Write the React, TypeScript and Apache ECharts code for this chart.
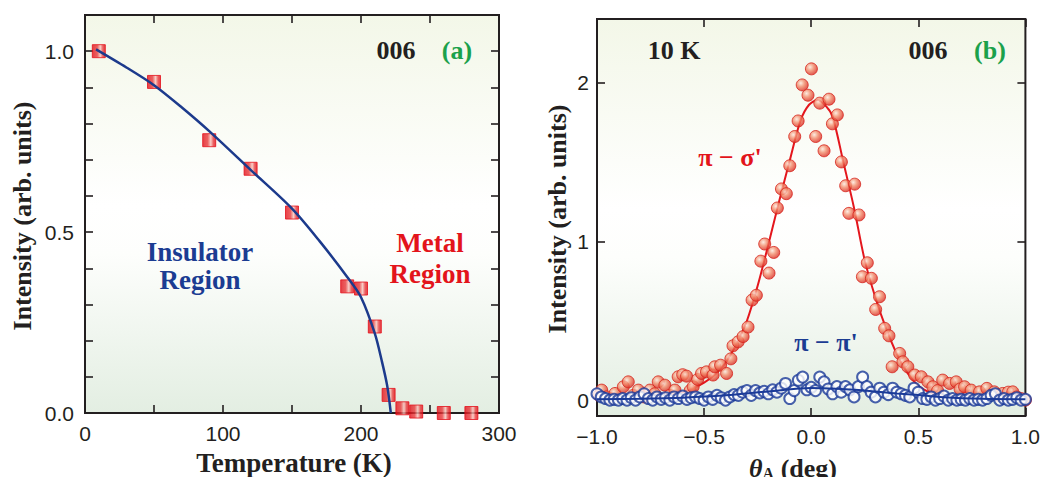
import React, { useEffect, useRef } from "react";
import * as echarts from "echarts";

// ---------- Panel (a): 006 intensity vs temperature ----------
const tempK = [10, 50, 90, 120, 150, 190, 200, 210, 220, 230, 240, 260, 280];
const intensityA = [1.0, 0.915, 0.754, 0.675, 0.554, 0.35, 0.344, 0.239, 0.05, 0.013, 0.004, 0.0, 0.0];
const fitT = [8, 30, 50, 70, 90, 120, 150, 170, 190, 200, 210, 215, 219, 221.6];
const fitI = [1.005, 0.955, 0.906, 0.845, 0.779, 0.672, 0.565, 0.475, 0.376, 0.32, 0.22, 0.145, 0.075, 0.0];

const aTicksX = [0, 50, 100, 150, 200, 250, 300];
const aLabelsX = [0, 100, 200, 300];
const aTicksY = [0, 0.1, 0.2, 0.3, 0.4, 0.5, 0.6, 0.7, 0.8, 0.9, 1.0];
const aLabelsY = [0, 0.5, 1.0];

// ---------- Panel (b): theta_A scan at 10 K ----------
const piSigmaPts: [number, number][] = [
  [-0.99, 0.03], [-0.978, 0.063], [-0.955, 0.02], [-0.935, 0.01], [-0.916, 0.042], [-0.877, 0.084],
  [-0.854, 0.115], [-0.83, 0.03], [-0.807, 0.063], [-0.78, 0.02], [-0.753, 0.063], [-0.73, 0.04],
  [-0.714, 0.115], [-0.683, 0.094], [-0.66, 0.03], [-0.636, 0.063], [-0.621, 0.147], [-0.6, 0.16],
  [-0.582, 0.151], [-0.565, 0.06], [-0.551, 0.084], [-0.53, 0.13], [-0.512, 0.168], [-0.489, 0.178],
  [-0.458, 0.158], [-0.45, 0.21], [-0.423, 0.22], [-0.395, 0.168], [-0.375, 0.26], [-0.365, 0.342],
  [-0.341, 0.367], [-0.318, 0.4], [-0.295, 0.46], [-0.276, 0.63], [-0.256, 0.66], [-0.235, 0.875],
  [-0.217, 0.983], [-0.197, 0.8], [-0.175, 0.93], [-0.158, 1.21], [-0.139, 1.33], [-0.116, 1.3],
  [-0.1, 1.476], [-0.077, 1.66], [-0.061, 1.758], [-0.042, 1.985], [-0.015, 1.92], [0.001, 2.086],
  [0.021, 1.66], [0.04, 1.87], [0.06, 1.57], [0.083, 1.895], [0.099, 1.74], [0.122, 1.796],
  [0.141, 1.5], [0.161, 1.35], [0.176, 1.176], [0.203, 1.36], [0.223, 1.166], [0.239, 0.777],
  [0.262, 0.865], [0.281, 0.767], [0.301, 0.571], [0.319, 0.651], [0.343, 0.452], [0.363, 0.405],
  [0.378, 0.21], [0.413, 0.294], [0.428, 0.241], [0.451, 0.21], [0.483, 0.158], [0.514, 0.147],
  [0.545, 0.115], [0.568, 0.084], [0.59, 0.06], [0.614, 0.126], [0.646, 0.105], [0.677, 0.115],
  [0.695, 0.07], [0.716, 0.084], [0.747, 0.063], [0.786, 0.052], [0.82, 0.074], [0.855, 0.052],
  [0.875, 0.03], [0.894, 0.042], [0.92, 0.05], [0.941, 0.052], [0.96, 0.02], [0.98, 0.01], [1.0, 0.0],
];
const piSigmaFit: [number, number][] = [
  [-1.0, 0.01], [-0.9, 0.012], [-0.8, 0.018], [-0.7, 0.03], [-0.6, 0.05], [-0.55, 0.075], [-0.5, 0.11],
  [-0.45, 0.16], [-0.4, 0.235], [-0.35, 0.35], [-0.3, 0.5], [-0.25, 0.72], [-0.2, 0.98], [-0.15, 1.25],
  [-0.1, 1.51], [-0.05, 1.76], [-0.01, 1.86], [0.03, 1.89], [0.07, 1.85], [0.1, 1.785], [0.15, 1.5],
  [0.2, 1.21], [0.25, 0.88], [0.3, 0.645], [0.35, 0.45], [0.4, 0.29], [0.45, 0.17], [0.5, 0.09],
  [0.55, 0.05], [0.6, 0.03], [0.7, 0.018], [0.8, 0.012], [0.9, 0.01], [1.0, 0.01],
];
const piPiPts: [number, number][] = [
  [-1.0, 0.04], [-0.98, 0.02], [-0.96, 0.01], [-0.94, 0.0], [-0.92, 0.005], [-0.9, 0.0], [-0.88, 0.01],
  [-0.86, 0.0], [-0.84, 0.015], [-0.82, 0.0], [-0.8, 0.02], [-0.78, 0.04], [-0.76, 0.01], [-0.74, 0.0],
  [-0.72, 0.02], [-0.7, 0.005], [-0.68, 0.015], [-0.66, 0.0], [-0.64, 0.02], [-0.62, 0.01], [-0.6, 0.025],
  [-0.58, 0.005], [-0.56, 0.015], [-0.54, 0.02], [-0.52, 0.01], [-0.5, 0.0], [-0.48, 0.02], [-0.46, 0.005],
  [-0.44, 0.03], [-0.42, 0.015], [-0.4, 0.0], [-0.38, 0.02], [-0.36, 0.035], [-0.34, 0.03], [-0.32, 0.05],
  [-0.3, 0.06], [-0.28, 0.03], [-0.26, 0.06], [-0.24, 0.045], [-0.22, 0.055], [-0.2, 0.04], [-0.18, 0.065],
  [-0.16, 0.05], [-0.14, 0.075], [-0.12, 0.105], [-0.1, 0.01], [-0.08, 0.06], [-0.06, 0.125], [-0.04, 0.145],
  [-0.02, 0.065], [0.0, 0.08], [0.02, 0.06], [0.04, 0.145], [0.06, 0.115], [0.08, 0.07], [0.1, 0.04],
  [0.12, 0.085], [0.14, 0.05], [0.16, 0.085], [0.18, 0.065], [0.2, 0.02], [0.22, 0.085], [0.24, 0.145],
  [0.26, 0.085], [0.28, 0.05], [0.3, 0.02], [0.32, 0.075], [0.34, 0.05], [0.36, 0.035], [0.38, 0.075],
  [0.4, 0.05], [0.42, 0.04], [0.44, 0.03], [0.46, 0.02], [0.48, 0.075], [0.5, 0.05], [0.52, 0.01],
  [0.54, 0.005], [0.56, 0.02], [0.58, 0.0], [0.6, 0.01], [0.62, 0.025], [0.64, 0.0], [0.66, 0.01],
  [0.68, 0.0], [0.7, 0.005], [0.72, 0.0], [0.74, 0.01], [0.76, 0.0], [0.78, 0.005], [0.8, 0.0],
  [0.82, 0.01], [0.84, 0.03], [0.86, 0.04], [0.88, 0.0], [0.9, 0.01], [0.92, 0.0], [0.94, 0.005],
  [0.96, 0.015], [0.98, 0.0], [1.0, 0.005],
];
const piPiFit: [number, number][] = [
  [-1.0, 0.005], [-0.8, 0.008], [-0.6, 0.015], [-0.4, 0.03], [-0.2, 0.055], [0.0, 0.077],
  [0.2, 0.066], [0.4, 0.042], [0.5, 0.032], [0.6, 0.02], [0.8, 0.008], [1.0, 0.005],
];

const bTicksX = [-1, -0.5, 0, 0.5, 1];
const bTicksY = [0, 1, 2];

const SERIF = '"Liberation Serif", "Times New Roman", serif';
const SANS = '"Liberation Sans", Arial, sans-serif';
const INK = "#231f20";
const BLUE = "#1b3c92";
const RED = "#e3141b";
const GREEN = "#1ba14b";

export default function App() {
  const ref = useRef<HTMLDivElement>(null);

  useEffect(() => {
    const chart = echarts.init(ref.current!, null, { renderer: "svg" });

    const bg = () =>
      new echarts.graphic.LinearGradient(0, 0, 0, 1, [
        { offset: 0, color: "#f3f7e8" },
        { offset: 0.48, color: "#ffffff" },
        { offset: 0.6, color: "#fdfefc" },
        { offset: 1, color: "#e3eee2" },
      ]);

    const tick = (vals: number[]) => ({
      show: true,
      inside: true,
      length: 8,
      customValues: vals,
      lineStyle: { color: INK, width: 1.6 },
    });
    const label = (vals: number[], fmt: (v: number) => string, margin: number) => ({
      show: true,
      customValues: vals,
      formatter: fmt,
      fontSize: 21,
      fontFamily: SANS,
      color: INK,
      margin,
    });
    const baseAxis = {
      type: "value" as const,
      axisLine: { show: false, onZero: false },
      splitLine: { show: false },
    };

    const txt = (
      x: number,
      y: number,
      text: string,
      color: string,
      size = 26,
      extra: any = {}
    ) => ({
      type: "text",
      x,
      y,
      style: {
        text,
        fill: color,
        font: `bold ${size}px ${SERIF}`,
        align: "center",
        verticalAlign: "middle",
      },
      ...extra,
    });

    const squareFill = new echarts.graphic.LinearGradient(0, 0, 1, 0, [
      { offset: 0, color: "#e3101a" },
      { offset: 0.38, color: "#e8383a" },
      { offset: 0.62, color: "#f8c3bc" },
      { offset: 0.82, color: "#e8383a" },
      { offset: 1, color: "#e3101a" },
    ]);
    const sphereFill = new echarts.graphic.RadialGradient(0.38, 0.35, 0.68, [
      { offset: 0, color: "#fde8dc" },
      { offset: 0.45, color: "#f28b6b" },
      { offset: 1, color: "#dc2a22" },
    ]);

    chart.setOption({
      animation: false,
      backgroundColor: "#ffffff",
      grid: [
        { left: 85, top: 15, width: 414, height: 398, show: true, backgroundColor: bg(), borderColor: INK, borderWidth: 2 },
        { left: 597, top: 19, width: 429, height: 397, show: true, backgroundColor: bg(), borderColor: INK, borderWidth: 2 },
      ],
      xAxis: [
        {
          ...baseAxis, gridIndex: 0, min: 0, max: 300, position: "bottom",
          axisTick: tick(aTicksX),
          axisLabel: label(aLabelsX, (v) => String(v), 10),
        },
        {
          ...baseAxis, gridIndex: 0, min: 0, max: 300, position: "top",
          axisTick: tick(aTicksX), axisLabel: { show: false },
        },
        {
          ...baseAxis, gridIndex: 1, min: -1, max: 1, position: "bottom",
          axisTick: tick(bTicksX),
          axisLabel: label(bTicksX, (v) => (v < 0 ? "\u2212" : "") + Math.abs(v).toFixed(1), 10),
        },
        {
          ...baseAxis, gridIndex: 1, min: -1, max: 1, position: "top",
          axisTick: tick(bTicksX), axisLabel: { show: false },
        },
      ],
      yAxis: [
        {
          ...baseAxis, gridIndex: 0, min: 0, max: 1.1, position: "left",
          axisTick: tick(aTicksY),
          axisLabel: label(aLabelsY, (v) => v.toFixed(1), 11),
        },
        {
          ...baseAxis, gridIndex: 0, min: 0, max: 1.1, position: "right",
          axisTick: tick(aTicksY), axisLabel: { show: false },
        },
        {
          ...baseAxis, gridIndex: 1, min: -0.1, max: 2.4, position: "left",
          axisTick: tick(bTicksY),
          axisLabel: label(bTicksY, (v) => String(v), 8),
        },
        {
          ...baseAxis, gridIndex: 1, min: -0.1, max: 2.4, position: "right",
          axisTick: tick(bTicksY), axisLabel: { show: false },
        },
      ],
      series: [
        {
          type: "scatter", xAxisIndex: 0, yAxisIndex: 0, z: 2,
          symbol: "rect", symbolSize: 13,
          itemStyle: { color: squareFill, borderColor: "#e3101a", borderWidth: 1 },
          data: tempK.map((t, i) => [t, intensityA[i]]),
        },
        {
          type: "line", xAxisIndex: 0, yAxisIndex: 0, z: 3,
          showSymbol: false, smooth: 0.3,
          lineStyle: { color: "#1c3a8c", width: 2.5 },
          data: fitT.map((t, i) => [t, fitI[i]]),
        },
        {
          type: "line", xAxisIndex: 2, yAxisIndex: 2, z: 2,
          showSymbol: false, smooth: 0.3,
          lineStyle: { color: "#e4161d", width: 2 },
          data: piSigmaFit,
        },
        {
          type: "scatter", xAxisIndex: 2, yAxisIndex: 2, z: 3,
          symbol: "circle", symbolSize: 12,
          itemStyle: { color: sphereFill, borderColor: "#d6241d", borderWidth: 1 },
          data: piSigmaPts,
        },
        {
          type: "scatter", xAxisIndex: 2, yAxisIndex: 2, z: 4,
          symbol: "circle", symbolSize: 11,
          itemStyle: { color: "#ffffff", borderColor: "#1a3a98", borderWidth: 2 },
          data: piPiPts,
        },
        {
          type: "line", xAxisIndex: 2, yAxisIndex: 2, z: 5,
          showSymbol: false, smooth: 0.3,
          lineStyle: { color: "#1a3a98", width: 2 },
          data: piPiFit,
        },
      ],
      graphic: [
        txt(396, 50, "006", INK),
        txt(457, 50, "(a)", GREEN),
        txt(200, 252, "Insulator", BLUE, 27),
        txt(200, 280, "Region", BLUE, 27),
        txt(430, 243, "Metal", RED, 27),
        txt(430, 274, "Region", RED, 27),
        txt(22, 216, "Intensity (arb. units)", INK, 26, { rotation: Math.PI / 2 }),
        txt(294, 463, "Temperature (K)", INK, 27),
        txt(674, 50, "10 K", INK),
        txt(928, 50, "006", INK),
        txt(990, 50, "(b)", GREEN),
        txt(730, 157, "\u03c0 \u2212 \u03c3'", RED),
        txt(826, 342, "\u03c0 \u2212 \u03c0'", BLUE),
        txt(557, 219, "Intensity (arb. units)", INK, 26, { rotation: Math.PI / 2 }),
        {
          type: "text",
          x: 793,
          y: 468,
          style: {
            text: "{th|\u03b8}{sub|A}{n| (deg)}",
            align: "center",
            verticalAlign: "middle",
            rich: {
              th: { fontSize: 26, fontWeight: "bold", fontStyle: "italic", fontFamily: SERIF, fill: INK },
              sub: { fontSize: 16, fontWeight: "bold", fontFamily: SERIF, fill: INK, padding: [10, 0, 0, 0] },
              n: { fontSize: 26, fontWeight: "bold", fontFamily: SERIF, fill: INK },
            },
          },
        },
      ],
    });

    return () => chart.dispose();
  }, []);

  return (
    <div
      ref={ref}
      style={{ position: "fixed", left: 0, top: 0, width: 1043, height: 477, background: "#fff" }}
    />
  );
}
